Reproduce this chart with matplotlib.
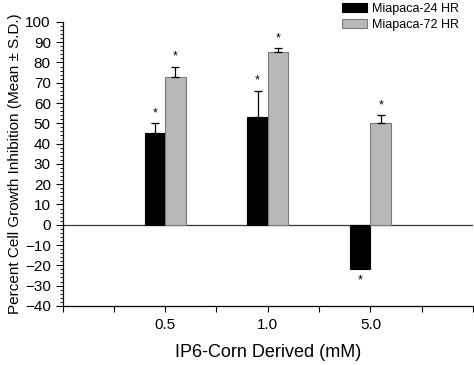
import matplotlib
matplotlib.use("Agg")
import matplotlib.pyplot as plt
import numpy as np
from matplotlib.ticker import MultipleLocator

categories = ["0.5", "1.0", "5.0"]
series_names = ["Miapaca-24 HR", "Miapaca-72 HR"]
vals_24 = [45, 53, -22]
err_24 = [5, 13, 0]
vals_72 = [73, 85, 50]
err_72 = [5, 2, 4]
colors = ["#000000", "#b8b8b8"]
edges = ["#000000", "#7a7a7a"]

plt.rcParams['font.family'] = ['Liberation Sans', 'DejaVu Sans']

fig = plt.figure(figsize=(4.74, 3.65), dpi=100)
ax = fig.add_axes([0.132, 0.162, 0.866, 0.778])

x = np.arange(len(categories))
w = 0.2
for i, (vals, errs) in enumerate([(vals_24, err_24), (vals_72, err_72)]):
    pos = x + (i - 0.5) * w
    ax.bar(pos, vals, width=w, color=colors[i], edgecolor=edges[i], linewidth=0.8,
           label=series_names[i], zorder=2)
    for p, v, e in zip(pos, vals, errs):
        if v >= 0:
            ax.errorbar([p], [v], yerr=[[0], [e]], fmt='none', ecolor='black',
                        elinewidth=0.9, capsize=3, capthick=0.9, zorder=3)
            ax.text(p, v + e + 2, "*", ha='center', va='bottom', fontsize=9)
        else:
            ax.text(p, v - e - 2.5, "*", ha='center', va='top', fontsize=9)

ax.axhline(0, color='#333333', linewidth=0.9, zorder=1)
ax.set_xlim(-1, 3)
ax.set_ylim(-40, 100)
ax.set_xticks(np.arange(-1, 3.01, 0.5))
ax.set_xticklabels(["" if t not in (0, 1, 2) else categories[int(t)] for t in np.arange(-1, 3.01, 0.5)])
ax.yaxis.set_major_locator(MultipleLocator(10))
ax.yaxis.set_minor_locator(MultipleLocator(2))
ax.tick_params(axis='both', direction='out', labelsize=11, width=0.8)
ax.tick_params(axis='y', which='major', length=5)
ax.tick_params(axis='y', which='minor', length=2.5, width=0.6)
ax.tick_params(axis='x', which='major', length=4, pad=5)
for s in ['top', 'right']:
    ax.spines[s].set_visible(False)
ax.spines['left'].set_linewidth(0.9)
ax.spines['bottom'].set_linewidth(0.9)

ax.set_ylabel("Percent Cell Growth Inhibition (Mean \u00b1 S.D.)", fontsize=11, labelpad=2)
ax.set_xlabel("IP6-Corn Derived (mM)", fontsize=13)
ax.xaxis.set_label_coords(0.5, -0.135)

leg = ax.legend(loc='upper left', bbox_to_anchor=(0.668, 1.085), frameon=False, fontsize=9,
                handlelength=2.0, handleheight=0.8, labelspacing=0.3, handletextpad=0.4,
                borderaxespad=0)

fig.savefig("out.png", dpi=100)
